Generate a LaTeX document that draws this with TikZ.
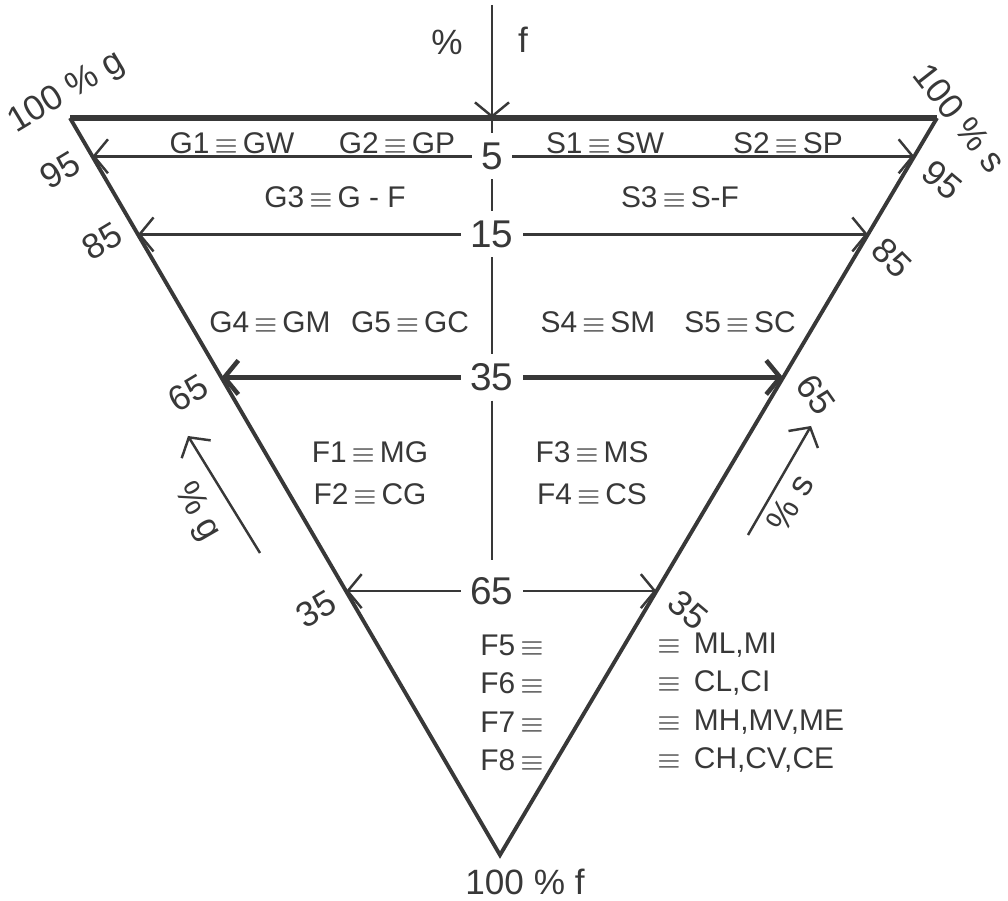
\documentclass[tikz,border=0pt]{standalone}
\usepackage{fontspec}
\setmainfont{Liberation Sans}
\usetikzlibrary{arrows.meta,calc}
\newcommand{\eqv}{\,$\equiv$\,}

\begin{document}
\begin{tikzpicture}[x=0.01cm,y=-0.01cm,>={Straight Barb[length=1.4mm,width=3.4mm]},
 font=\fontsize{8.5}{10}\selectfont,color=black!78,
 lvl/.style={fill=white,inner sep=2.5pt,font=\fontsize{11}{12}\selectfont},
 tick/.style={inner sep=1pt,font=\fontsize{10}{11}\selectfont},
 side/.style={line width=1.1pt}]
\useasboundingbox (0,0) rectangle (1008,901);
\coordinate (A) at (70,118);
\coordinate (B) at (937,118);
\coordinate (C) at (500,855);
\coordinate (fx) at (492,0);
\draw[line width=1.6pt] (A) -- (B);
\draw[side] (A) -- (C) -- (B);
% arrow for % f
\coordinate (ftop) at (492,5);
\coordinate (fhit) at (A -| fx);
\draw[->,line width=0.7pt] (ftop) -- (fhit);
\node[tick] (fpct) at (447,42) {\%};
\node[tick] (fname) at (523,40) {f};
% levels of f
\foreach \f/\t/\w in {5/0.052/0.7pt,15/0.158/0.7pt,35/0.352/1.3pt,65/0.642/0.7pt}{
 \coordinate (l\f) at ($(A)!\t!(C)$);
 \coordinate (r\f) at ($(B)!\t!(C)$);
 \node[lvl] (m\f) at (l\f -| fx) {\f};
 \draw[->,line width=\w] (m\f) -- (l\f);
 \draw[->,line width=\w] (m\f) -- (r\f);
}
\coordinate (vend) at (492,560);
\draw[line width=0.8pt] (fhit) -- (m5) (m5) -- (m15) (m15) -- (m35) (m35) -- (vend);
% corner and edge numbers
\node[tick,rotate=31] (cg) at (67,93) {100 \% g};
\node[tick,rotate=-52] (cs) at (960,118) {100 \% s};
\node[tick] (cf) at (525,882) {100 \% f};
\node[tick,rotate=31] (g95) at (60,170) {95};
\node[tick,rotate=31] (g85) at (102,241) {85};
\node[tick,rotate=31] (g65) at (188,393) {65};
\node[tick,rotate=31] (g35) at (316,609) {35};
\node[tick,rotate=-40] (s95) at (942,180) {95};
\node[tick,rotate=-45] (s85) at (892,258) {85};
\node[tick,rotate=-55] (s65) at (816,395) {65};
\node[tick,rotate=-40] (s35) at (688,610) {35};
% arrows for % g and % s
\coordinate (ga) at (260,553);
\coordinate (gb) at (188,436);
\draw[->,line width=0.7pt] (ga) -- (gb);
\node[tick,rotate=-60] (gpct) at (197,512) {\% g};
\coordinate (sa) at (748,535);
\coordinate (sb) at (811,426);
\draw[->,line width=0.7pt] (sa) -- (sb);
\node[tick,rotate=60] (spct) at (790,503) {\% s};
% groups
\node (g1) at (232,143) {G1\eqv GW};
\node (g2) at (397,143) {G2\eqv GP};
\node (s1) at (605,143) {S1\eqv SW};
\node (s2) at (788,143) {S2\eqv SP};
\node (g3) at (335,197) {G3\eqv G - F};
\node (s3) at (680,197) {S3\eqv S-F};
\node (g4) at (270,322) {G4\eqv GM};
\node (g5) at (410,322) {G5\eqv GC};
\node (s4) at (598,322) {S4\eqv SM};
\node (s5) at (740,322) {S5\eqv SC};
\node (f1) at (370,452) {F1\eqv MG};
\node (f2) at (370,494) {F2\eqv CG};
\node (f3) at (592,452) {F3\eqv MS};
\node (f4) at (592,494) {F4\eqv CS};
\node[anchor=west] (f5) at (468,645) {F5\eqv};
\node[anchor=west] (f6) at (468,683) {F6\eqv};
\node[anchor=west] (f7) at (468,722) {F7\eqv};
\node[anchor=west] (f8) at (468,760) {F8\eqv};
\node[anchor=west] (f5b) at (640,645) {\eqv\ ML,MI};
\node[anchor=west] (f6b) at (640,683) {\eqv\ CL,CI};
\node[anchor=west] (f7b) at (640,722) {\eqv\ MH,MV,ME};
\node[anchor=west] (f8b) at (640,760) {\eqv\ CH,CV,CE};
\end{tikzpicture}
\end{document}
